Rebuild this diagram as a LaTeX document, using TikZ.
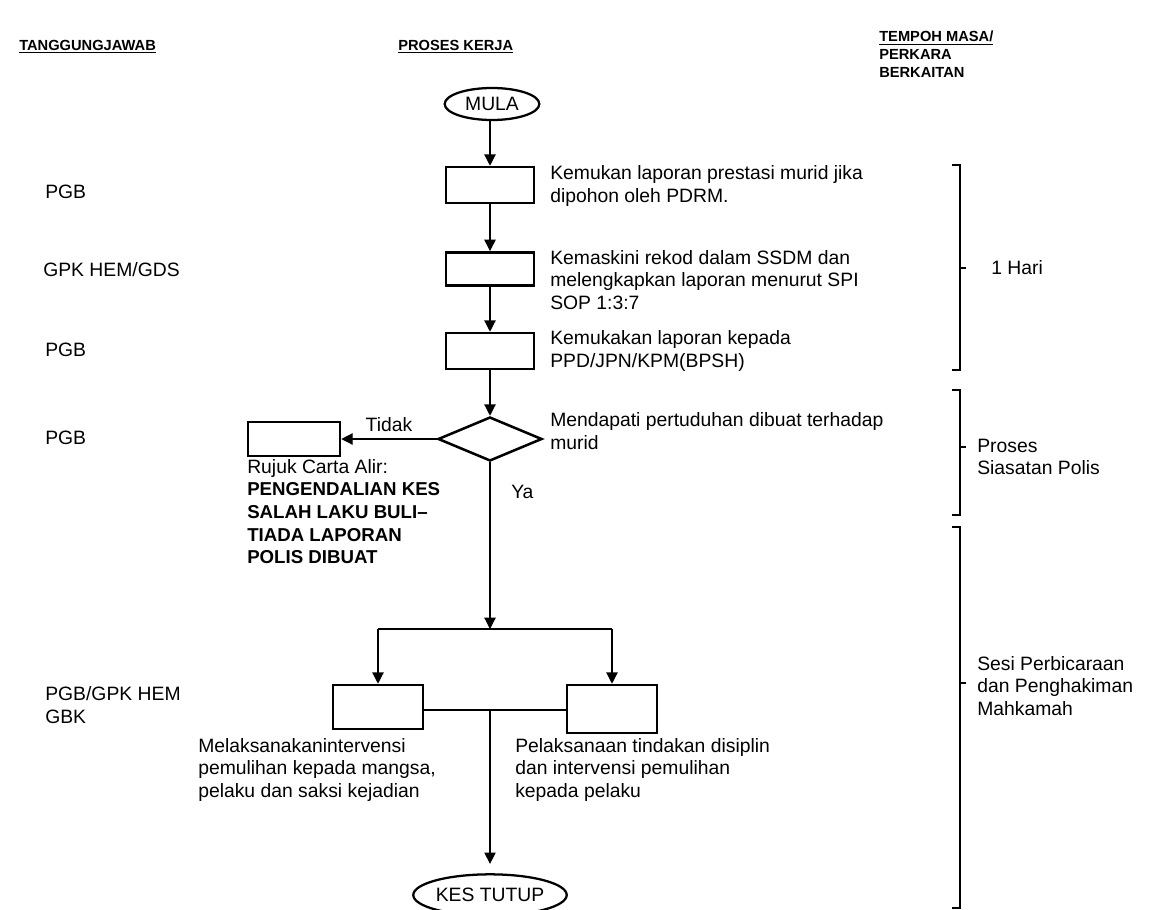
\documentclass[tikz,border=0pt]{standalone}
\usepackage{fontspec}
\setmainfont{Liberation Sans}
\usetikzlibrary{shapes.geometric,arrows.meta}

\begin{document}
\begin{tikzpicture}[x=0.75pt,y=0.75pt,yscale=-1,xscale=1,
    font=\fontsize{14.5}{17}\selectfont,
    procbox/.style={draw,line width=1.9pt,minimum width=66pt,minimum height=27pt,inner sep=0pt},
    termnode/.style={draw,ellipse,line width=1.7pt,inner sep=0pt},
    flowline/.style={line width=0.9pt},
    flowarrow/.style={line width=0.9pt,-{Triangle[length=8.5pt,width=8.5pt]}},
    bracketline/.style={line width=1.9pt},
    headtxt/.style={anchor=west,inner sep=0.75pt,font=\fontsize{11}{13.5}\selectfont\bfseries,align=left},
    txt/.style={anchor=west,inner sep=0.75pt,align=left}]
    \useasboundingbox (0,0) rectangle (1168,910);

    %Shape: Ellipse
    \node (mula) [termnode,minimum width=71pt,minimum height=24pt] at (492,104) {MULA};
    %Shape: Rectangle
    \node (kemukan) [procbox] at (490,185) {};
    %Shape: Rectangle
    \node (kemaskini) [procbox,minimum height=25pt] at (490,269) {};
    %Shape: Rectangle
    \node (kemukakan) [procbox] at (490,351) {};
    %Shape: Diamond
    \node (dapati) [draw,diamond,line width=1.9pt,minimum width=78pt,minimum height=33pt,inner sep=0pt] at (490,439) {};
    %Shape: Rectangle
    \node (rujuk) [procbox,minimum width=69pt,minimum height=25.5pt] at (294,439) {};
    %Shape: Rectangle
    \node (intervensi) [procbox,minimum width=67.5pt,minimum height=33pt] at (378,707) {};
    %Shape: Rectangle
    \node (disiplin) [procbox,minimum width=67.5pt,minimum height=36pt] at (612,709) {};
    %Shape: Ellipse
    \node (tutup) [termnode,minimum width=97pt,minimum height=31pt] at (490,895) {KES TUTUP};

    \coordinate (split) at (490,629);
    \coordinate (splitL) at (378,629);
    \coordinate (splitR) at (612,629);
    \coordinate (join) at (490,710);

    %Straight Lines
    \draw [flowarrow] (mula.south -| kemukan) -- (kemukan);
    \draw [flowarrow] (kemukan) -- (kemaskini);
    \draw [flowarrow] (kemaskini) -- (kemukakan);
    \draw [flowarrow] (kemukakan) -- (dapati);
    \draw [flowarrow] (dapati.west) -- node [above=2pt] {Tidak} (rujuk.east);
    \draw [flowarrow] (dapati.south) -- (split);
    \draw [line width=1.9pt] (splitL) -- (splitR);
    \draw [flowarrow] (splitL) -- (intervensi.north);
    \draw [flowarrow] (splitR) -- (disiplin.north);
    \draw [line width=1.5pt] (intervensi.east |- join) -- (disiplin.west |- join);
    \draw [flowarrow,shorten >=7pt] (join) -- (tutup);

    %Brackets
    \draw [bracketline] (952,165) -- (960,165) -- (960,370) -- (952,370);
    \draw [bracketline] (960,268) -- (966,268);
    \draw [bracketline] (952,390) -- (960,390) -- (960,515) -- (952,515);
    \draw [bracketline] (960,447) -- (966,447);
    \draw [bracketline] (952,527) -- (960,527) -- (960,908) -- (952,908);
    \draw [bracketline] (960,683) -- (966,683);

    % Text Node
    \node (hdrTang) [headtxt] at (18,47) {\underline{TANGGUNGJAWAB}};
    % Text Node
    \node (hdrProses) [headtxt] at (397,47) {\underline{PROSES KERJA}};
    % Text Node
    \node (hdrTempoh) [headtxt,anchor=north west] at (878,30) {\underline{TEMPOH MASA/}\\PERKARA\\BERKAITAN};
    % Text Node
    \node (pgbA) [txt] at (44,192) {PGB};
    % Text Node
    \node (gpk) [txt] at (42,270) {GPK HEM/GDS};
    % Text Node
    \node (pgbB) [txt] at (44,350) {PGB};
    % Text Node
    \node (pgbC) [txt] at (44,438) {PGB};
    % Text Node
    \node (pgbGpk) [txt] at (44,705) {PGB/GPK HEM\\GBK};
    % Text Node
    \node (tKemukan) [txt] at (549,186) {Kemukan laporan prestasi murid jika\\dipohon oleh PDRM.};
    % Text Node
    \node (tKemaskini) [txt] at (549,280) {Kemaskini rekod dalam SSDM dan\\melengkapkan laporan menurut SPI\\SOP 1:3:7};
    % Text Node
    \node (tKemukakan) [txt] at (549,351) {Kemukakan laporan kepada\\PPD/JPN/KPM(BPSH)};
    % Text Node
    \node (tDapati) [txt] at (549,431) {Mendapati pertuduhan dibuat terhadap\\murid};
    % Text Node
    \node (tYa) [txt] at (510,492) {Ya};
    % Text Node
    \node (tRujuk) [txt,anchor=north west] at (246,458) {Rujuk Carta Alir:\\\textbf{\fontsize{14}{17}\selectfont PENGENDALIAN KES}\\\textbf{\fontsize{14}{17}\selectfont SALAH LAKU BULI--}\\\textbf{\fontsize{14}{17}\selectfont TIADA LAPORAN}\\\textbf{\fontsize{14}{17}\selectfont POLIS DIBUAT}};
    % Text Node
    \node (tInter) [txt,anchor=north west] at (197,737) {Melaksanakanintervensi\\pemulihan kepada mangsa,\\pelaku dan saksi kejadian};
    % Text Node
    \node (tDisiplin) [txt,anchor=north west] at (514,737) {Pelaksanaan tindakan disiplin\\dan intervensi pemulihan\\kepada pelaku};
    % Text Node
    \node (tHari) [txt] at (990,268) {1 Hari};
    % Text Node
    \node (tSiasat) [txt] at (976,457) {Proses\\Siasatan Polis};
    % Text Node
    \node (tSesi) [txt] at (976,686) {Sesi Perbicaraan\\dan Penghakiman\\Mahkamah};

\end{tikzpicture}
\end{document}
